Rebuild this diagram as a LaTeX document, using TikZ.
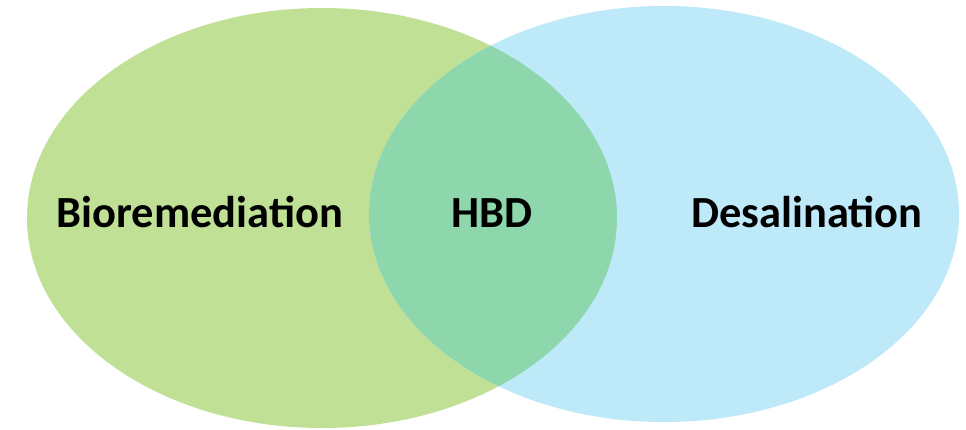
\documentclass[tikz,border=0pt]{standalone}
\usepackage{fontspec}
\setmainfont{Carlito}
\definecolor{leftgreen}{RGB}{192,224,150}
\definecolor{rightblue}{RGB}{190,233,249}
\definecolor{overlap}{RGB}{142,214,172}
\begin{document}
\begin{tikzpicture}[x=1pt,y=-1pt,
  lbl/.style={anchor=base,font=\fontsize{44.5}{52}\selectfont\bfseries,text=black,inner sep=0pt}]
\useasboundingbox (0,0) rectangle (966,429);
\fill[white] (0,0) rectangle (966,429);
\fill[leftgreen] (322,218) ellipse [x radius=295, y radius=210];
\fill[rightblue] (664,214) ellipse [x radius=295, y radius=208];
\begin{scope}
  \clip (322,218) ellipse [x radius=295, y radius=210];
  \fill[overlap] (664,214) ellipse [x radius=295, y radius=208];
\end{scope}
\node[lbl] (bio) at (200,227) {Bioremediation};
\node[lbl] (hbd) at (492,227) {HBD};
\node[lbl] (des) at (807,227) {Desalination};
\end{tikzpicture}
\end{document}
